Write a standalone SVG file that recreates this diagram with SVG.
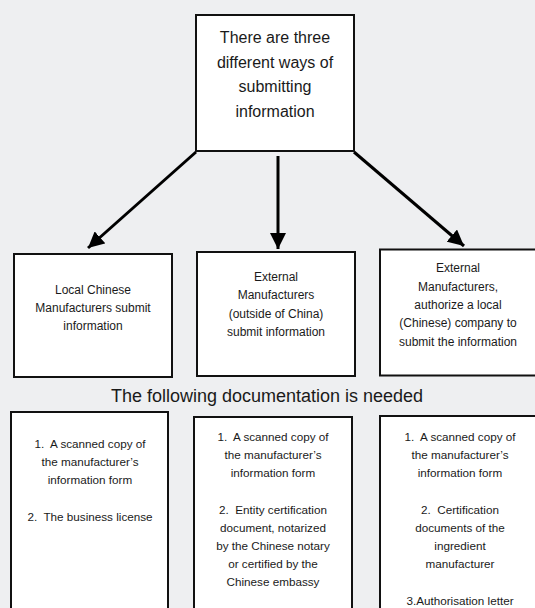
<svg xmlns="http://www.w3.org/2000/svg" width="535" height="608" viewBox="0 0 535 608">
<style>
  .box { fill: #ffffff; stroke: #111111; stroke-width: 2; }
  text { font-family: "Liberation Sans", Arial, sans-serif; fill: #1a1a1a; text-anchor: middle; white-space: pre; }
  .t16 { font-size: 16px; }
  .t12 { font-size: 12px; }
  .t11 { font-size: 11.7px; }
  .t18 { font-size: 18px; }
  .arrow { stroke: #000000; stroke-width: 3; fill: none; marker-end: url(#head); }
</style>
<defs>
  <marker id="head" markerUnits="userSpaceOnUse" markerWidth="17" markerHeight="16" refX="16" refY="8" orient="auto">
    <path d="M0,0 L16,8 L0,16 z" fill="#000000"/>
  </marker>
</defs>
<rect width="535" height="608" fill="#eeeff1"/>

<g id="connectors">
  <line class="arrow" x1="196" y1="152" x2="88" y2="248"/>
  <line class="arrow" x1="278" y1="156" x2="278" y2="249"/>
  <line class="arrow" x1="354" y1="152" x2="464" y2="246"/>
</g>

<g id="root">
  <rect class="box" x="196" y="15" width="158" height="136"/>
  <text class="t16" x="275" y="43">There are three</text>
  <text class="t16" x="275" y="68">different ways of</text>
  <text class="t16" x="275" y="92">submitting</text>
  <text class="t16" x="275" y="117">information</text>
</g>

<g id="local">
  <rect class="box" x="14" y="254" width="158" height="123"/>
  <text class="t12" x="93" y="294">Local Chinese</text>
  <text class="t12" x="93" y="312">Manufacturers submit</text>
  <text class="t12" x="93" y="330">information</text>
</g>

<g id="external">
  <rect class="box" x="197" y="252" width="158" height="124"/>
  <text class="t12" x="276" y="281">External</text>
  <text class="t12" x="276" y="299">Manufacturers</text>
  <text class="t12" x="276" y="318">(outside of China)</text>
  <text class="t12" x="276" y="336">submit information</text>
</g>

<g id="authorize">
  <rect class="box" x="380" y="249.5" width="158" height="126"/>
  <text class="t12" x="458" y="272">External</text>
  <text class="t12" x="458" y="291">Manufacturers,</text>
  <text class="t12" x="458" y="309">authorize a local</text>
  <text class="t12" x="458" y="327">(Chinese) company to</text>
  <text class="t12" x="458" y="346">submit the information</text>
</g>

<g id="heading">
  <text class="t18" x="267" y="402">The following documentation is needed</text>
</g>

<g id="docs-local">
  <rect class="box" x="11" y="412" width="157" height="210"/>
  <text class="t11" x="90" y="448" xml:space="preserve">1.  A scanned copy of</text>
  <text class="t11" x="90" y="466">the manufacturer’s</text>
  <text class="t11" x="90" y="484">information form</text>
  <text class="t11" x="90" y="521" xml:space="preserve">2.  The business license</text>
</g>

<g id="docs-external">
  <rect class="box" x="194" y="417" width="158" height="210"/>
  <text class="t11" x="273" y="441" xml:space="preserve">1.  A scanned copy of</text>
  <text class="t11" x="273" y="459">the manufacturer’s</text>
  <text class="t11" x="273" y="477">information form</text>
  <text class="t11" x="273" y="514" xml:space="preserve">2.  Entity certification</text>
  <text class="t11" x="273" y="532">document, notarized</text>
  <text class="t11" x="273" y="550">by the Chinese notary</text>
  <text class="t11" x="273" y="568">or certified by the</text>
  <text class="t11" x="273" y="586">Chinese embassy</text>
</g>

<g id="docs-authorize">
  <rect class="box" x="380" y="416" width="160" height="210"/>
  <text class="t11" x="460" y="441" xml:space="preserve">1.  A scanned copy of</text>
  <text class="t11" x="460" y="459">the manufacturer’s</text>
  <text class="t11" x="460" y="477">information form</text>
  <text class="t11" x="460" y="514" xml:space="preserve">2.  Certification</text>
  <text class="t11" x="460" y="532">documents of the</text>
  <text class="t11" x="460" y="550">ingredient</text>
  <text class="t11" x="460" y="568">manufacturer</text>
  <text class="t11" x="460" y="605">3.Authorisation letter</text>
</g>
</svg>
